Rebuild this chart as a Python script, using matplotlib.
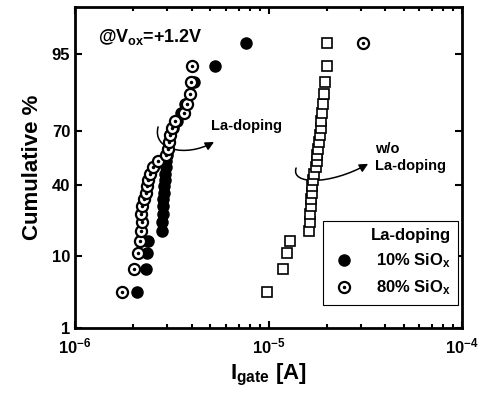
import numpy as np
import matplotlib
matplotlib.use("Agg")
import matplotlib.pyplot as plt
from matplotlib.path import Path
from matplotlib.patches import FancyArrowPatch
from matplotlib.ticker import FixedLocator, NullLocator, LogLocator, NullFormatter
from statistics import NormalDist

plt.rcParams['font.family'] = ['Liberation Sans', 'DejaVu Sans']
plt.rcParams['font.weight'] = 'bold'
plt.rcParams['mathtext.fontset'] = 'custom'
plt.rcParams['mathtext.rm'] = 'Liberation Sans:bold'
plt.rcParams['mathtext.it'] = 'Liberation Sans:bold'
plt.rcParams['mathtext.bf'] = 'Liberation Sans:bold'

# cumulative percentages (same ranks for all three samples)
cum_pct = [3.57, 7.14, 10.71, 14.29, 17.86, 21.43, 25.0, 28.57, 32.14, 35.71,
           39.29, 42.86, 46.43, 50.0, 53.57, 57.14, 60.71, 64.29, 67.86, 71.43,
           75.0, 78.57, 82.14, 85.71, 89.29, 92.86, 96.43]

# gate current [A]
ig_10 = [2.09e-6, 2.32e-6, 2.35e-6, 2.38e-6, 2.81e-6, 2.81e-6, 2.84e-6, 2.84e-6,
         2.84e-6, 2.88e-6, 2.88e-6, 2.91e-6, 2.91e-6, 2.95e-6, 2.95e-6, 2.98e-6,
         3.02e-6, 3.05e-6, 3.09e-6, 3.20e-6, 3.36e-6, 3.52e-6, 3.69e-6, 3.92e-6,
         4.11e-6, 5.27e-6, 7.61e-6]
ig_80 = [1.75e-6, 2.01e-6, 2.11e-6, 2.16e-6, 2.19e-6, 2.22e-6, 2.19e-6, 2.22e-6,
         2.27e-6, 2.32e-6, 2.35e-6, 2.38e-6, 2.44e-6, 2.52e-6, 2.68e-6, 2.95e-6,
         3.02e-6, 3.05e-6, 3.09e-6, 3.16e-6, 3.28e-6, 3.65e-6, 3.78e-6, 3.92e-6,
         3.96e-6, 4.01e-6, 3.09e-5]
ig_wo = [9.76e-6, 1.181e-5, 1.238e-5, 1.283e-5, 1.608e-5, 1.627e-5, 1.627e-5,
         1.646e-5, 1.646e-5, 1.666e-5, 1.666e-5, 1.686e-5, 1.706e-5, 1.747e-5,
         1.768e-5, 1.768e-5, 1.789e-5, 1.810e-5, 1.832e-5, 1.854e-5, 1.854e-5,
         1.876e-5, 1.898e-5, 1.921e-5, 1.944e-5, 1.991e-5, 2.014e-5]

nd = NormalDist()
_ppf = np.vectorize(nd.inv_cdf, otypes=[float])
_cdf = np.vectorize(nd.cdf, otypes=[float])

def fwd(p):
    p = np.clip(np.asarray(p, dtype=float) / 100.0, 1e-9, 1 - 1e-9)
    return _ppf(p)

def inv(z):
    return _cdf(np.asarray(z, dtype=float)) * 100.0

fig = plt.figure(figsize=(4.78, 3.99), dpi=100)
ax = fig.add_axes([0.157, 0.178, 0.81, 0.805])
ax.set_xscale('log')
ax.set_yscale('function', functions=(fwd, inv))

ax.plot(ig_wo, cum_pct, ls='none', marker='s', ms=7, mfc='white', mec='black', mew=1.2)
h10, = ax.plot(ig_10, cum_pct, ls='none', marker='o', ms=8, mfc='black', mec='black')
h80, = ax.plot(ig_80, cum_pct, ls='none', marker='o', ms=8, mfc='white', mec='black', mew=1.6)
hdot, = ax.plot(ig_80, cum_pct, ls='none', marker='o', ms=1.5, mfc='black', mec='black')

ax.set_xlim(1e-6, 1e-4)
ax.set_ylim(1, 99)

yt = [1, 10, 40, 70, 95]
ax.yaxis.set_major_locator(FixedLocator(yt))
ax.set_yticklabels([str(v) for v in yt])
ax.yaxis.set_minor_locator(NullLocator())
ax.xaxis.set_major_locator(LogLocator(base=10, numticks=10))
ax.xaxis.set_minor_locator(LogLocator(base=10, subs=np.arange(2, 10), numticks=10))
ax.xaxis.set_minor_formatter(NullFormatter())

ax.tick_params(which='both', direction='in', top=True, right=True, width=1.5,
               labelsize=12)
ax.tick_params(which='major', length=5)
ax.tick_params(which='minor', length=3)
ax.tick_params(axis='x', pad=6)
for s in ax.spines.values():
    s.set_linewidth(2)
for lab in ax.get_xticklabels() + ax.get_yticklabels():
    lab.set_fontweight('bold')

ax.set_xlabel(r'I$_{\mathrm{gate}}$ [A]', fontsize=16, fontweight='bold', labelpad=4)
ax.set_ylabel('Cumulative %', fontsize=16, fontweight='bold', labelpad=6)

ax.text(0.06, 0.905, r'@V$_{\mathrm{ox}}$=+1.2V', transform=ax.transAxes,
        fontsize=13, fontweight='bold', va='center')
ax.text(0.35, 0.63, 'La-doping', transform=ax.transAxes, fontsize=10.5,
        fontweight='bold', va='center')
ax.text(0.775, 0.53, 'w/o\nLa-doping', transform=ax.transAxes, fontsize=10.5,
        fontweight='bold', va='center', linespacing=1.3)

# curved arrows
for pts in ([(0.2145, 0.626), (0.199, 0.555), (0.284, 0.530), (0.359, 0.579)],
            [(0.571, 0.498), (0.556, 0.445), (0.659, 0.445), (0.757, 0.511)]):
    path = Path(pts, [Path.MOVETO, Path.CURVE4, Path.CURVE4, Path.CURVE4])
    arr = FancyArrowPatch(path=path, arrowstyle='-|>,head_length=5,head_width=2.5',
                          lw=1.1, color='black', transform=ax.transAxes)
    ax.add_patch(arr)

leg = ax.legend([h10, (h80, hdot)], [r'10% SiO$_{\mathrm{x}}$', r'80% SiO$_{\mathrm{x}}$'],
                title='La-doping', loc='lower right', bbox_to_anchor=(0.99, 0.072),
                borderaxespad=0, fancybox=False, edgecolor='black', framealpha=1,
                fontsize=12, title_fontproperties={'weight': 'bold', 'size': 12},
                handlelength=1.6, handletextpad=1.1, borderpad=0.45,
                labelspacing=0.5)
leg._legend_box.align = 'right'
leg.get_frame().set_linewidth(0.8)
for t in leg.get_texts():
    t.set_fontweight('bold')

fig.savefig('out.png', dpi=100)
